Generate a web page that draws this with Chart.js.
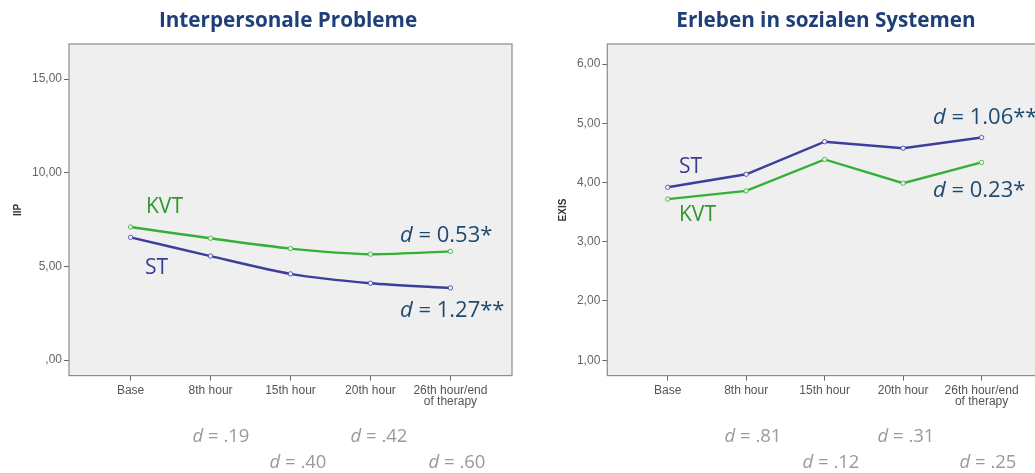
<!DOCTYPE html>
<html><head><meta charset="utf-8">
<script src="https://cdn.jsdelivr.net/npm/chart.js@4"></script>
<style>
html,body{margin:0;padding:0;width:1035px;height:473px;overflow:hidden;background:#fff}
.box{position:absolute;top:0;height:473px}
</style></head><body>
<div class="box" style="left:0;width:520px"><canvas id="c1"></canvas></div>
<div class="box" style="left:520px;width:600px"><canvas id="c2"></canvas></div>
<script>
// ---- data ----
const categories = ['Base', '8th hour', '15th hour', '20th hour', ['26th hour/end', 'of therapy']];
const iipKVT = [7.1, 6.5, 5.95, 5.65, 5.8];
const iipST = [6.55, 5.55, 4.6, 4.1, 3.85];
const exisST = [3.92, 4.14, 4.69, 4.58, 4.76];
const exisKVT = [3.72, 3.86, 4.39, 3.99, 4.34];
const iipTicks = [0, 5, 10, 15];
const exisTicks = [1, 2, 3, 4, 5, 6];
const iipPairD = ['d = .19', 'd = .40', 'd = .42', 'd = .60'];
const exisPairD = ['d = .81', 'd = .12', 'd = .31', 'd = .25'];

const GREEN = '#35b035', BLUE = '#3d3d9e', NAVY = '#1f3f78', DTXT = '#1f4a70', GRAYD = '#9a9a9a';
const fmt = v => v === 0 ? ',00' : v.toFixed(2).replace('.', ',');
const pts = arr => arr.map((v, i) => ({x: i, y: v}));

function decor(cfg) {
  return {
    id: 'decor',
    beforeDraw(chart) {
      const {ctx, chartArea: a} = chart;
      ctx.save(); ctx.fillStyle = '#efefef';
      ctx.fillRect(a.left, a.top, a.right - a.left, a.bottom - a.top);
      ctx.restore();
    },
    afterDraw(chart) {
      const {ctx, chartArea: a} = chart;
      ctx.save();
      ctx.strokeStyle = '#8c8c8c'; ctx.lineWidth = 1.2;
      ctx.strokeRect(a.left, a.top, a.right - a.left, a.bottom - a.top);
      // title
      ctx.fillStyle = NAVY; ctx.font = 'bold 20.7px "Open Sans"';
      ctx.textAlign = 'center'; ctx.textBaseline = 'middle';
      ctx.fillText(cfg.title, cfg.titleX, 21);
      // axis title
      ctx.save(); ctx.translate(cfg.axisX, 210); ctx.rotate(-Math.PI / 2);
      ctx.fillStyle = '#333'; ctx.font = 'bold 10px "Liberation Sans"';
      ctx.fillText(cfg.axisTitle, 0, 0); ctx.restore();
      // annotations
      for (const t of cfg.texts) {
        ctx.textAlign = t.align || 'left'; ctx.textBaseline = 'middle';
        ctx.fillStyle = t.color;
        if (t.d) {
          let x = t.x;
          const rest = t.text.slice(1);
          ctx.font = t.size + 'px "Open Sans"';
          const wRest = ctx.measureText(rest).width;
          ctx.font = 'italic ' + t.size + 'px "Open Sans"';
          const wD = ctx.measureText('d').width;
          if (t.align === 'center') x = t.x - (wD + wRest) / 2;
          ctx.textAlign = 'left';
          ctx.fillText('d', x, t.y);
          ctx.font = t.size + 'px "Open Sans"';
          ctx.fillText(rest, x + wD, t.y);
        } else {
          ctx.font = t.size + 'px "Open Sans"';
          ctx.fillText(t.text, t.x, t.y);
        }
      }
      ctx.restore();
    }
  };
}

function makeChart(id, s1, s2, c1, c2, yMin, yMax, yTicks, yW, padR, tension, cfg) {
  return new Chart(document.getElementById(id), {
    type: 'line',
    data: {
      datasets: [
        {data: pts(s1), borderColor: c1, backgroundColor: '#efefef', borderWidth: 2.4, pointRadius: 2.2, pointBorderWidth: 0.8, pointBorderColor: c1, tension: tension},
        {data: pts(s2), borderColor: c2, backgroundColor: '#efefef', borderWidth: 2.4, pointRadius: 2.2, pointBorderWidth: 0.8, pointBorderColor: c2, tension: tension}
      ]
    },
    options: {
      responsive: true, maintainAspectRatio: false, animation: false,
      layout: {padding: {left: 0, right: padR, top: 44, bottom: 0}},
      plugins: {legend: {display: false}, tooltip: {enabled: false}},
      scales: {
        x: {
          type: 'linear', min: -0.77, max: 4.77,
          afterBuildTicks: s => { s.ticks = categories.map((c, i) => ({value: i})); },
          afterFit: s => { s.height = 97.4; },
          grid: {drawOnChartArea: false, drawTicks: true, tickLength: 5, color: '#666', lineWidth: 1},
          border: {display: false},
          ticks: {callback: v => categories[v], color: '#555', font: {family: 'Liberation Sans', size: 12, lineHeight: 0.95}, padding: 4, maxRotation: 0, autoSkip: false}
        },
        y: {
          min: yMin, max: yMax,
          afterBuildTicks: s => { s.ticks = yTicks.map(v => ({value: v})); },
          afterFit: s => { s.width = yW; },
          grid: {drawOnChartArea: false, drawTicks: true, tickLength: 5, color: '#666', lineWidth: 1},
          border: {display: false},
          ticks: {callback: fmt, color: '#666', font: {family: 'Liberation Sans', size: 12}, padding: 2}
        }
      }
    },
    plugins: [decor(cfg)]
  });
}

makeChart('c1', iipKVT, iipST, GREEN, BLUE, -0.83, 16.87, iipTicks, 69, 8, 0.25, {
  title: 'Interpersonale Probleme', titleX: 288, axisTitle: 'IIP', axisX: 18,
  texts: [
    {text: 'KVT', x: 146, y: 207, size: 21, color: '#2f962f'},
    {text: 'ST', x: 145, y: 268, size: 21, color: '#3b3b96'},
    {text: 'd = 0.53*', x: 400, y: 236, size: 22, color: DTXT, d: true},
    {text: 'd = 1.27**', x: 400, y: 311, size: 22, color: DTXT, d: true},
    {text: iipPairD[0], x: 221, y: 437, size: 18.5, color: GRAYD, d: true, align: 'center'},
    {text: iipPairD[1], x: 298, y: 463, size: 18.5, color: GRAYD, d: true, align: 'center'},
    {text: iipPairD[2], x: 379, y: 437, size: 18.5, color: GRAYD, d: true, align: 'center'},
    {text: iipPairD[3], x: 457, y: 463, size: 18.5, color: GRAYD, d: true, align: 'center'}
  ]
});

makeChart('c2', exisST, exisKVT, BLUE, GREEN, 0.74, 6.34, exisTicks, 87.3, 78, 0, {
  title: 'Erleben in sozialen Systemen', titleX: 306, axisTitle: 'EXIS', axisX: 43,
  texts: [
    {text: 'ST', x: 159, y: 167, size: 21, color: '#3b3b96'},
    {text: 'KVT', x: 159, y: 215, size: 21, color: '#2f962f'},
    {text: 'd = 1.06**', x: 413, y: 118, size: 22, color: DTXT, d: true},
    {text: 'd = 0.23*', x: 413, y: 191, size: 22, color: DTXT, d: true},
    {text: exisPairD[0], x: 233, y: 437, size: 18.5, color: GRAYD, d: true, align: 'center'},
    {text: exisPairD[1], x: 311, y: 463, size: 18.5, color: GRAYD, d: true, align: 'center'},
    {text: exisPairD[2], x: 386, y: 437, size: 18.5, color: GRAYD, d: true, align: 'center'},
    {text: exisPairD[3], x: 468, y: 463, size: 18.5, color: GRAYD, d: true, align: 'center'}
  ]
});
</script>
</body></html>
